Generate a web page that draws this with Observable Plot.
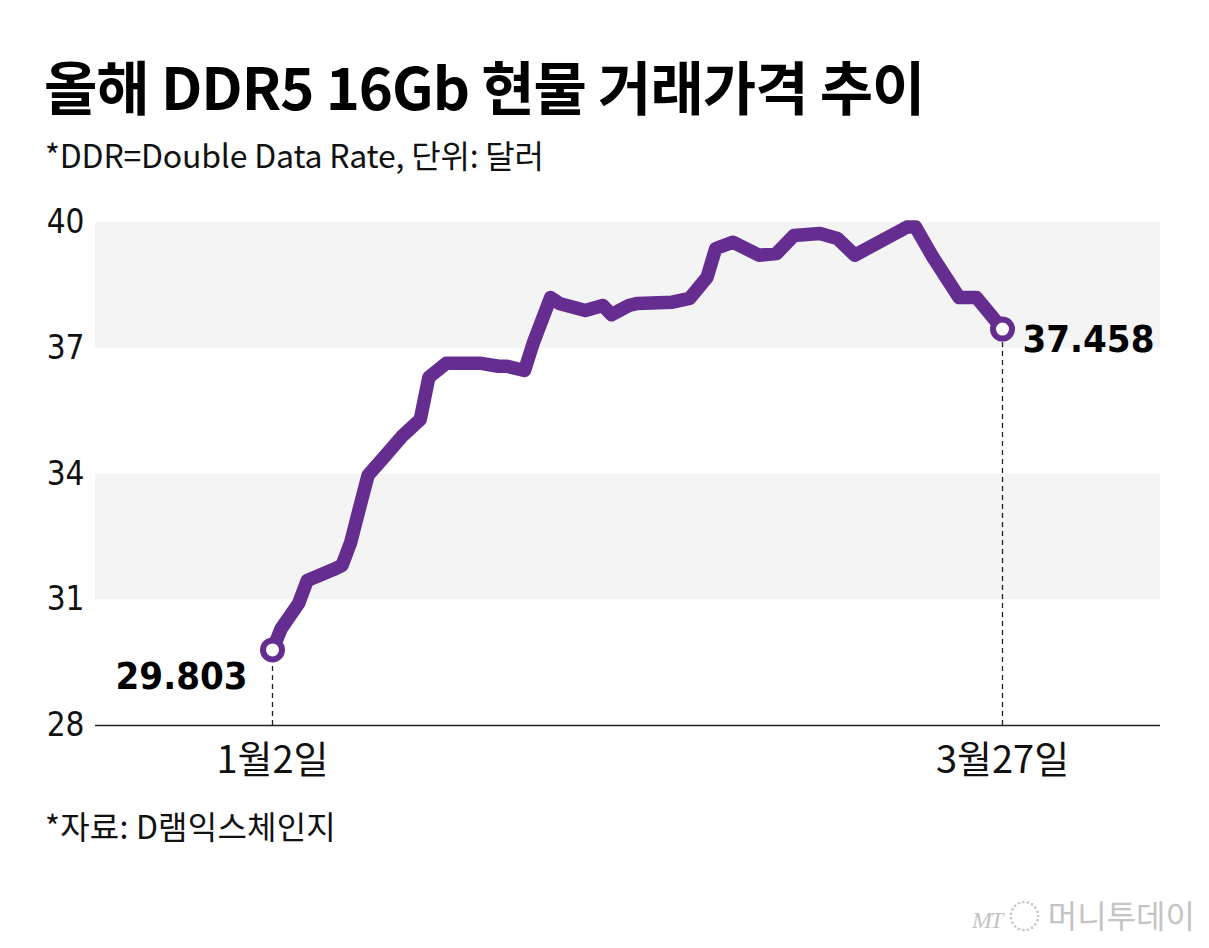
<!DOCTYPE html>
<html>
<head>
<meta charset="utf-8">
<script src="https://cdn.jsdelivr.net/npm/d3@7"></script>
<script src="https://cdn.jsdelivr.net/npm/@observablehq/plot@0.6"></script>
<style>
  html, body { margin: 0; padding: 0; background: #fff; }
  #page { position: relative; width: 1209px; height: 948px; overflow: hidden; background: #fff; }
  .title { position: absolute; left: 44px; top: 56px; font-family: "Noto Sans CJK KR", sans-serif; font-weight: 700; font-size: 58px; line-height: 1; letter-spacing: -1px; color: #000; white-space: nowrap; }
  .subtitle { position: absolute; left: 45px; top: 138px; font-family: "Noto Sans CJK KR", sans-serif; font-weight: 400; font-size: 32px; line-height: 1; letter-spacing: -0.2px; color: #111; white-space: nowrap; }
  .source { position: absolute; left: 45px; top: 809px; font-family: "Noto Sans CJK KR", sans-serif; font-weight: 400; font-size: 32px; line-height: 1; letter-spacing: 0.2px; color: #111; white-space: nowrap; }
  .mark { position: absolute; right: 14px; top: 898px; font-family: "Noto Sans CJK KR", sans-serif; font-weight: 400; font-size: 32px; line-height: 1; color: #c4c4c4; white-space: nowrap; }
  .mark i { font-family: "Liberation Serif", serif; font-size: 24px; letter-spacing: -2px; }
  #chart { position: absolute; left: 0; top: 190px; }
</style>
</head>
<body>
<div id="page">
  <div class="title">올해 DDR5 16Gb 현물 거래가격 추이</div>
  <div class="subtitle">*DDR=Double Data Rate, 단위: 달러</div>
  <div id="chart"></div>
  <div class="source">*자료: D램익스체인지</div>
  <div class="mark"><i>MT</i> ◌ 머니투데이</div>
</div>
<script>
// Spot price of DDR5 16Gb (USD)
const dates = [
  "2026-01-02","2026-01-03","2026-01-05","2026-01-06","2026-01-09","2026-01-10",
  "2026-01-11","2026-01-12","2026-01-13","2026-01-15","2026-01-17","2026-01-19",
  "2026-01-20","2026-01-22","2026-01-26","2026-01-28","2026-01-29","2026-01-31",
  "2026-02-01","2026-02-03","2026-02-04","2026-02-07","2026-02-09","2026-02-10",
  "2026-02-12","2026-02-13","2026-02-17","2026-02-19","2026-02-21","2026-02-22",
  "2026-02-24","2026-02-27","2026-03-01","2026-03-03","2026-03-06","2026-03-08",
  "2026-03-10","2026-03-16","2026-03-17","2026-03-19","2026-03-22","2026-03-24",
  "2026-03-27"
];
const values = [
  29.803, 30.31, 30.91, 31.46, 31.72, 31.82,
  32.37, 33.18, 33.97, 34.44, 34.92, 35.30,
  36.31, 36.64, 36.64, 36.57, 36.57, 36.47,
  37.12, 38.21, 38.07, 37.90, 38.02, 37.80,
  38.02, 38.07, 38.10, 38.19, 38.69, 39.38,
  39.53, 39.22, 39.26, 39.69, 39.74, 39.62,
  39.22, 39.89, 39.89, 39.17, 38.21, 38.21,
  37.458
];
const yTicks = [28, 31, 34, 37, 40];
const bandLow = [37, 31];
const bandHigh = [40, 34];
const xTickDates = ["2026-01-02", "2026-03-27"];
const xTickLabels = ["1월2일", "3월27일"];
const endLabels = ["29.803", "37.458"];

const parse = d3.utcParse("%Y-%m-%d");
const data = dates.map((d, i) => ({date: parse(d), value: values[i]}));
const bands = bandLow.map((lo, i) => ({lo, hi: bandHigh[i]}));
const ends = [data[0], data[data.length - 1]].map((d, i) => ({...d, label: endLabels[i]}));
const xTicks = xTickDates.map(parse);
const labelOf = new Map(xTicks.map((t, i) => [+t, xTickLabels[i]]));

const purple = "#662d91";
const numFont = '"Liberation Sans Narrow", "DejaVu Sans Condensed", "Noto Sans", sans-serif';

const chart = Plot.plot({
  width: 1209,
  height: 620,
  marginTop: 32,
  marginBottom: 85,
  marginLeft: 95,
  marginRight: 49,
  style: {background: "transparent", overflow: "visible"},
  x: {type: "utc", domain: [xTicks[0], xTicks[1]], range: [272, 1002]},
  y: {domain: [28, 40]},
  marks: [
    Plot.rect(bands, {y1: "lo", y2: "hi", fill: "#f4f4f4"}),
    Plot.ruleY([28], {stroke: "#222", strokeWidth: 1.4}),
    Plot.axisY({ticks: yTicks, tickSize: 0, tickPadding: 11, label: null,
      fontSize: 33, fontFamily: numFont, fill: "#111"}),
    Plot.axisX({ticks: xTicks, tickSize: 0, tickPadding: 21, label: null,
      tickFormat: (d) => labelOf.get(+d), fontSize: 38,
      fontFamily: '"Noto Sans CJK KR", sans-serif', fill: "#111"}),
    Plot.ruleX(ends, {x: "date", y1: 28, y2: "value", stroke: "#222",
      strokeWidth: 1.3, strokeDasharray: "5,4"}),
    Plot.line(data, {x: "date", y: "value", stroke: purple, strokeWidth: 13.5,
      strokeLinejoin: "round", strokeLinecap: "round"}),
    Plot.dot(ends, {x: "date", y: "value", r: 9.5, fill: "white",
      stroke: purple, strokeWidth: 6}),
    Plot.text(ends.slice(0, 1), {x: "date", y: "value", text: "label",
      textAnchor: "end", dx: -25, dy: 27, fontSize: 38, fontWeight: "bold",
      fontFamily: numFont, fill: "#000"}),
    Plot.text(ends.slice(1), {x: "date", y: "value", text: "label",
      textAnchor: "start", dx: 20, dy: 11, fontSize: 38, fontWeight: "bold",
      fontFamily: numFont, fill: "#000"})
  ]
});
document.getElementById("chart").appendChild(chart);
</script>
</body>
</html>
